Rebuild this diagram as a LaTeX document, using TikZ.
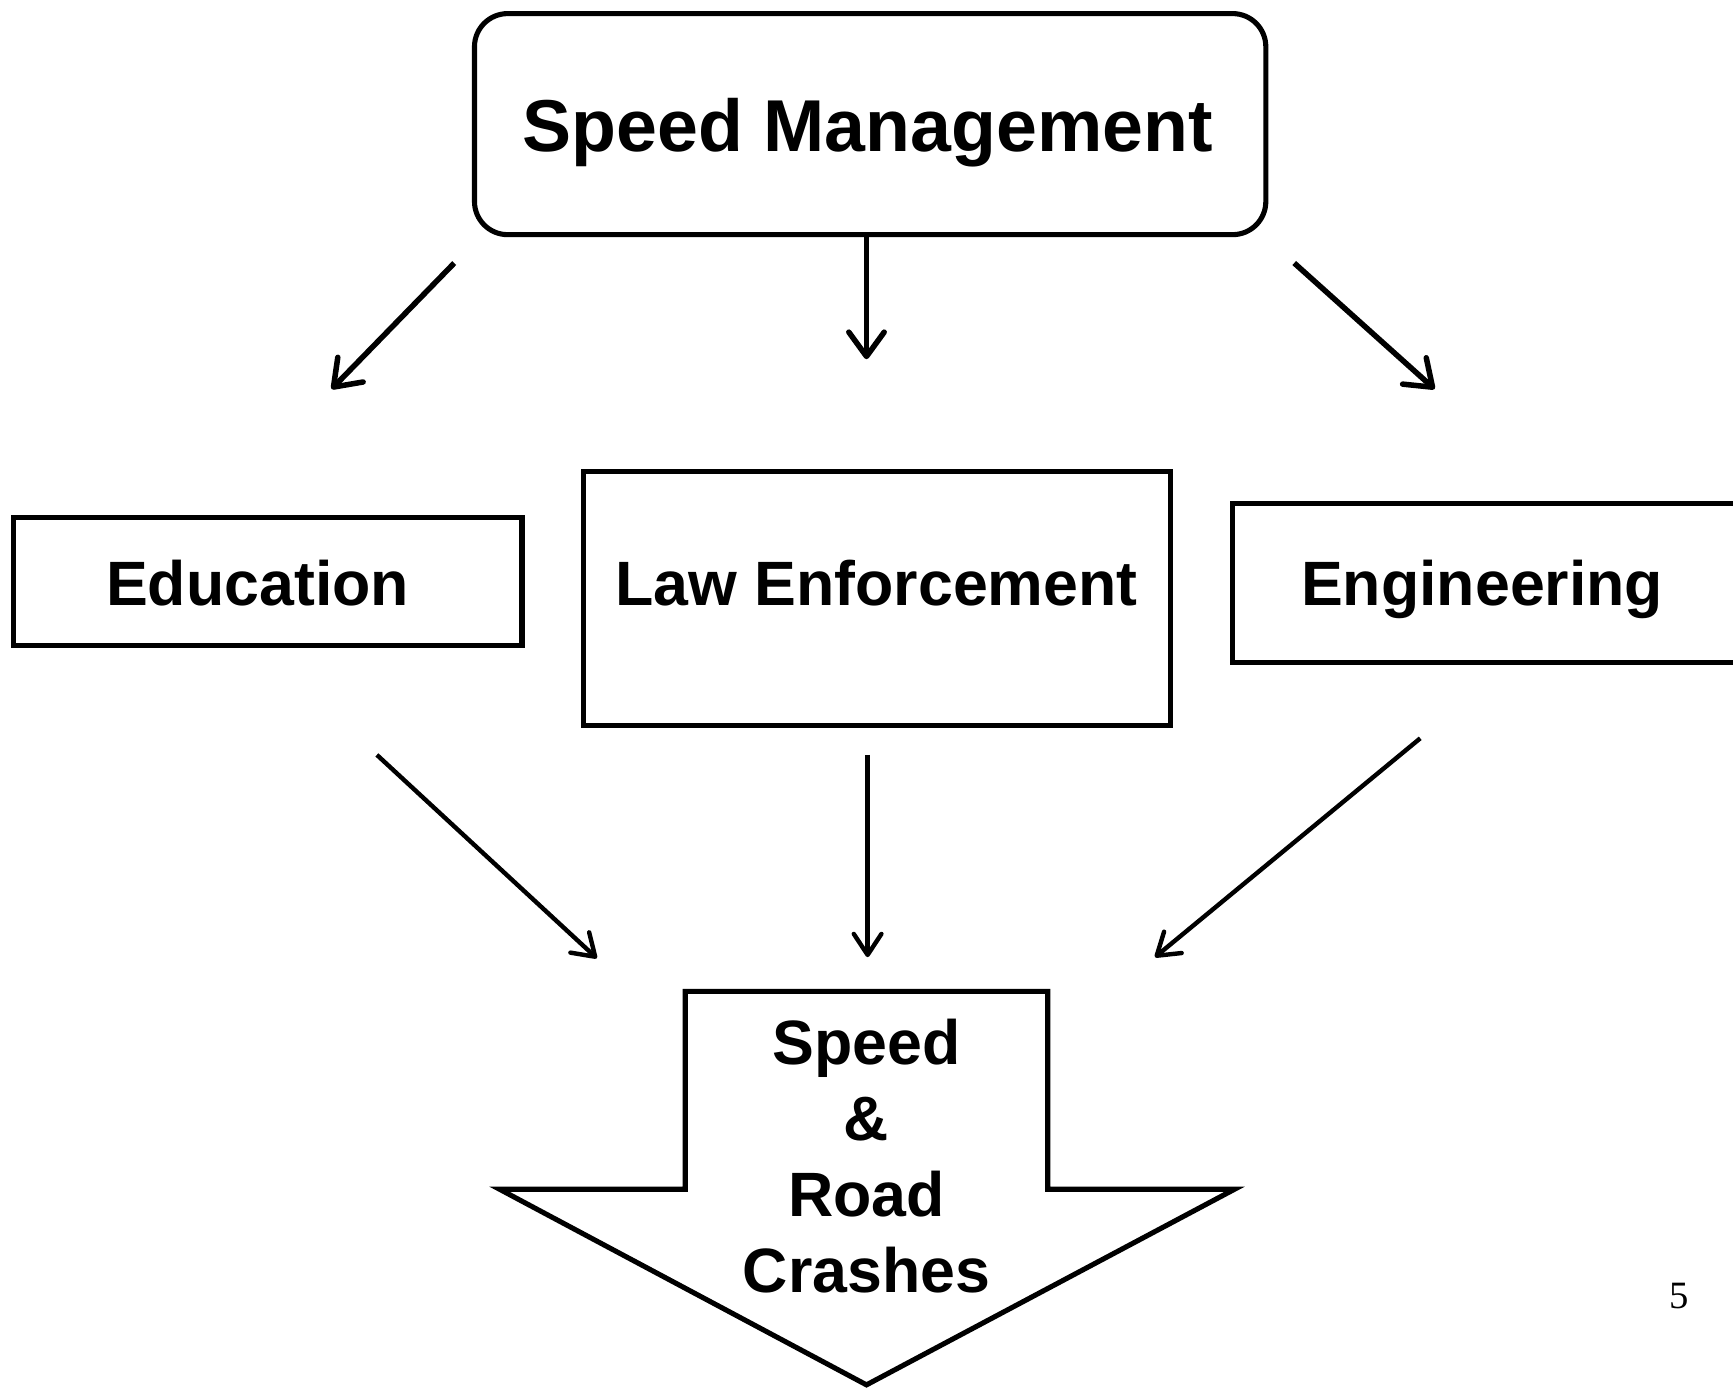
\documentclass[tikz,border=0pt]{standalone}
\usepackage{fontspec}
\setmainfont{Liberation Sans}
\newfontfamily\pagenumfont{Liberation Serif}
\usetikzlibrary{arrows.meta}
\begin{document}
\begin{tikzpicture}[x=1pt,y=-1pt,
  box/.style={draw, line width=4.6pt, inner sep=0pt, anchor=north west},
  lbl/.style={font=\fontsize{56.7}{69}\selectfont\bfseries, inner sep=0pt, anchor=base},
  toparr/.style={line width=5pt, -{Straight Barb[length=22pt,width=32pt,round]}},
  lowarr/.style={line width=4pt, -{Straight Barb[length=19pt,width=25pt,round]}}]
\useasboundingbox (0,0) rectangle (1568,1256);
\clip (0,0) rectangle (1568,1256);
\fill[white] (0,0) rectangle (1568,1256);

% boxes
\node[box, minimum width=716pt, minimum height=200pt, rounded corners=30pt] (sm) at (427,10) {};
\node[box, minimum width=460pt, minimum height=116pt] (edu) at (10,466) {};
\node[box, minimum width=531pt, minimum height=230pt] (law) at (526,424) {};
\node[box, minimum width=480pt, minimum height=144pt] (eng) at (1113,453) {};

% texts
\node[lbl, font=\fontsize{66.5}{80}\selectfont\bfseries] (smt) at (785,137) {Speed Management};
\node[lbl] (edut) at (233,548) {Education};
\node[lbl] (lawt) at (793,548) {Law Enforcement};
\node[lbl] (engt) at (1341,548) {Engineering};

% big down arrow
\draw[line width=4.6pt, line join=miter] (620,897) -- (948,897) -- (948,1076) -- (1117,1076)
  -- (784,1253) -- (452,1076) -- (620,1076) -- cycle;
\node[lbl, anchor=center, align=center] (src) at (784,1046) {Speed\\\&\\Road\\Crashes};

% page number
\node[font=\pagenumfont\fontsize{35}{40}\selectfont, inner sep=0pt, anchor=base] (pg) at (1519,1184) {5};

% connector end points
\coordinate (e1s) at (411,238); \coordinate (e1e) at (300,352);
\coordinate (l1s) at (784,212); \coordinate (l1e) at (784,325);
\coordinate (g1s) at (1171,238); \coordinate (g1e) at (1298,352);
\coordinate (e2s) at (341,683); \coordinate (e2e) at (540,867);
\coordinate (l2s) at (785,683); \coordinate (l2e) at (785,866);
\coordinate (g2s) at (1285,668); \coordinate (g2e) at (1045,866);

\draw[toparr] (e1s) -- (e1e);
\draw[toparr] (l1s) -- (l1e);
\draw[toparr] (g1s) -- (g1e);
\draw[lowarr] (e2s) -- (e2e);
\draw[lowarr] (l2s) -- (l2e);
\draw[lowarr] (g2s) -- (g2e);
\end{tikzpicture}
\end{document}
